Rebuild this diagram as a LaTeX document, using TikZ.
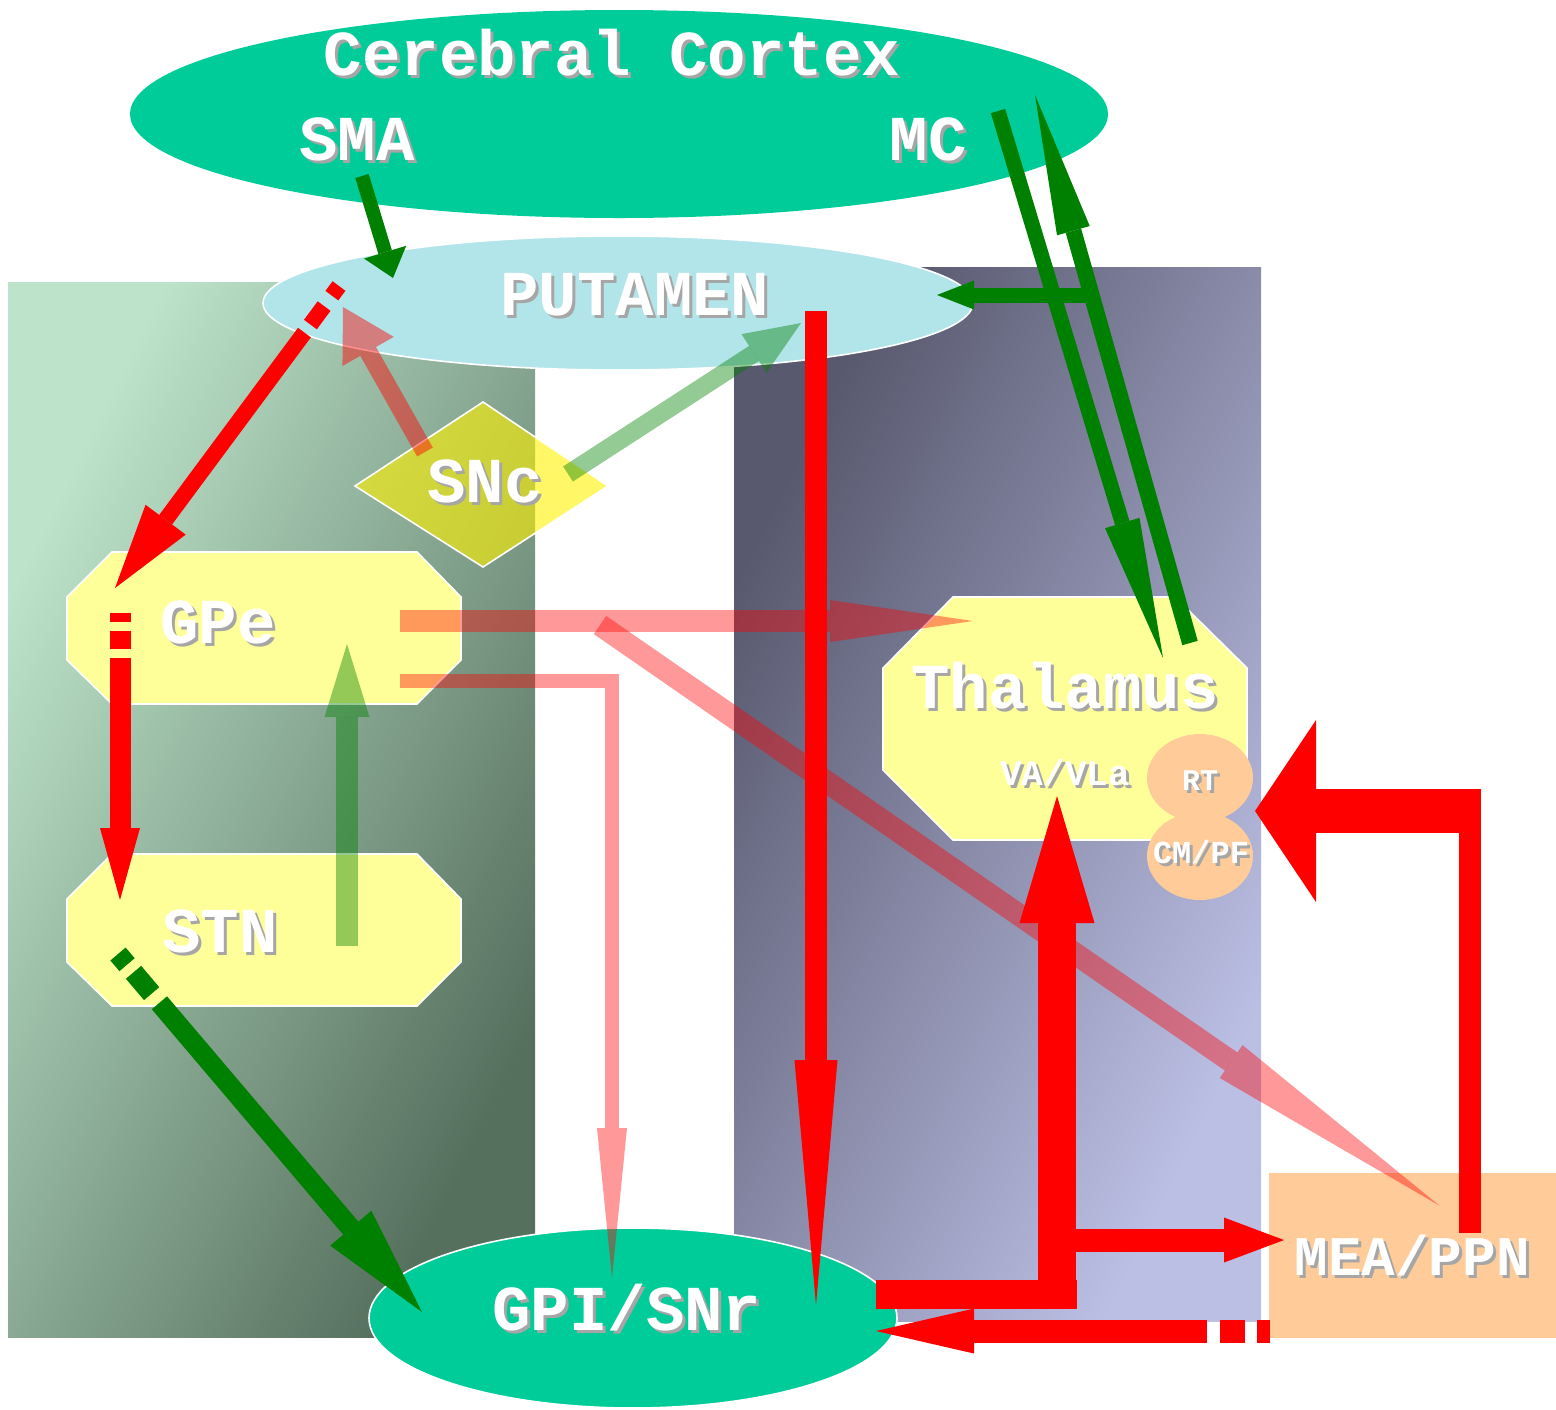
\documentclass[tikz,border=0pt]{standalone}
\usepackage{fontspec}
\setmonofont{Liberation Mono}
\usepackage{tikz}
\usetikzlibrary{arrows.meta,positioning,calc,shapes.geometric}
\definecolor{figteal}{HTML}{00CC99}
\definecolor{figcyan}{HTML}{B2E5E9}
\definecolor{figyellow}{HTML}{FFFF99}
\definecolor{figpeach}{HTML}{FFCC99}
\definecolor{figgreen}{HTML}{008000}
\definecolor{figred}{HTML}{FF0000}
\definecolor{mintlt}{HTML}{BDE3CA}
\definecolor{mintdk}{HTML}{56705E}
\definecolor{slatedk}{HTML}{58586E}
\definecolor{slatelt}{HTML}{BBBFE4}
\newcommand{\shtext}[1]{\makebox[0pt][l]{\hspace*{1.5pt}\raisebox{-1.5pt}{\textcolor{black!35}{#1}}}\textcolor{white}{#1}}
\tikzset{
  lbl/.style={inner sep=0pt, anchor=base, font=\ttfamily\bfseries\fontsize{32pt}{36pt}\selectfont},
  octbox/.style={fill=figyellow, draw=white, line width=0.8pt},
  region/.style={ellipse, inner sep=0pt},
  ah/.style 2 args={-{Triangle[length=#1,width=#2,line width=0pt]}},
}

\begin{document}
\begin{tikzpicture}[x=0.5pt,y=-0.5pt]
\useasboundingbox (0,0) rectangle (1556,1409);

% backgrounds (diagonal gradients stretched to each panel)
\shade[top color=mintlt, bottom color=mintdk, shading angle=45,
  transform canvas={xshift=4pt, yshift=-668.5pt, xscale=263.5, yscale=527.5}] (0pt,0pt) rectangle (1pt,1pt);
\shade[top color=slatedk, bottom color=slatelt, shading angle=45,
  transform canvas={xshift=367pt, yshift=-660.5pt, xscale=263.5, yscale=527}] (0pt,0pt) rectangle (1pt,1pt);
\fill[figpeach] (1269,1173) rectangle (1556,1338);

% regions
\node[region, fill=figteal, minimum width=489pt, minimum height=104pt] (cortex) at (619,114) {};
\node[region, fill=figcyan, draw=white, line width=0.8pt, minimum width=355pt, minimum height=67pt] (putamen) at (618,303) {};
\node[region, fill=figteal, draw=white, line width=0.8pt, minimum width=264pt, minimum height=90pt] (gpisnr) at (633,1318) {};

% nuclei
\filldraw[octbox] (112,552) -- (417,552) -- (461,597) -- (461,660) -- (417,704) -- (112,704) -- (67,660) -- (67,597) -- cycle;
\filldraw[octbox] (112,854) -- (417,854) -- (461,899) -- (461,962) -- (417,1006) -- (112,1006) -- (67,962) -- (67,899) -- cycle;
\filldraw[octbox] (953,597) -- (1175,597) -- (1247,668) -- (1247,770) -- (1175,840) -- (953,840) -- (883,770) -- (883,668) -- cycle;
\node[region, fill=figpeach, minimum width=53pt, minimum height=44pt] (rtcell) at (1200,778) {};
\node[region, fill=figpeach, minimum width=53pt, minimum height=44pt] (cmcell) at (1200,856) {};
\filldraw[fill=yellow, fill opacity=0.6, draw=white, line width=0.8pt] (355,486) -- (483,402) -- (608,486) -- (483,567) -- cycle;

% arrow ends
\coordinate (smaout) at (362,176);   \coordinate (putin) at (393,278);
\coordinate (mcout) at (998,111);    \coordinate (thalin) at (1163,658);
\coordinate (thalout) at (1190,643); \coordinate (mcin) at (1035,95);
\coordinate (mcbranch) at (1090,295); \coordinate (putright) at (937,295);
\coordinate (putgpe) at (339,286);   \coordinate (gpetop) at (115,588);
\coordinate (gpedown) at (120,613);  \coordinate (stntop) at (120,900);
\coordinate (stnout) at (118,954);   \coordinate (gpiin) at (422,1312);
\coordinate (gpethal) at (400,621);  \coordinate (thalleft) at (973,621);
\coordinate (gpegpi) at (400,681);   \coordinate (gpitop) at (612,1278);
\coordinate (stnup) at (347,946);    \coordinate (gpebot) at (347,644);
\coordinate (sncred) at (425,452);   \coordinate (putred) at (343,307);
\coordinate (sncgrn) at (568,474);   \coordinate (putgrn) at (801,323);
\coordinate (putdown) at (816,311);  \coordinate (gpiright) at (816,1305);
\coordinate (gpemea) at (600,625);   \coordinate (meatip) at (1440,1206);
\coordinate (gpiout) at (876,1294);  \coordinate (gpicorner) at (1077,1294);
\coordinate (vabase) at (1057,1287); \coordinate (vatip) at (1057,796);
\coordinate (vabranch) at (1057,1240); \coordinate (meain) at (1284,1240);
\coordinate (meaup) at (1470,1233);  \coordinate (meabend) at (1470,789);
\coordinate (meaturn) at (1481,811); \coordinate (rtin) at (1255,811);
\coordinate (meaout) at (1270,1331); \coordinate (gpiback) at (876,1331);

% faint pathways
\draw[figred, opacity=0.4, line width=11pt, ah={71.5pt}{21pt}] (gpethal) -- (thalleft);
\draw[figred, opacity=0.4, line width=7pt, ah={75pt}{15pt}] (gpegpi) -| (gpitop);
\draw[figred, opacity=0.4, line width=11pt, ah={127pt}{20pt}] (gpemea) -- (meatip);
\draw[figred, opacity=0.45, line width=9pt, ah={25.5pt}{29.5pt}] (sncred) -- (putred);
\draw[figgreen, opacity=0.42, line width=9pt, ah={28pt}{23pt}] (sncgrn) -- (putgrn);
\draw[figgreen, opacity=0.42, line width=11pt, ah={36.5pt}{22.5pt}] (stnup) -- (gpebot);

% solid pathways
\draw[figgreen, line width=7pt, ah={13.5pt}{22pt}] (smaout) -- (putin);
\draw[figgreen, line width=7.5pt, ah={70.5pt}{18pt}] (mcout) -- (thalin);
\draw[figgreen, line width=8pt, ah={70.5pt}{17pt}] (thalout) -- (mcin);
\draw[figgreen, line width=7.5pt, ah={18.5pt}{14.5pt}] (mcbranch) -- (putright);
\draw[figred, line width=8pt, dash pattern=on 6pt off 6.5pt on 11.5pt off 5pt on 500pt, ah={42.5pt}{25pt}] (putgpe) -- (gpetop);
\draw[figred, line width=10.5pt, dash pattern=on 4.5pt off 4.5pt on 9pt off 4.5pt on 500pt, ah={36pt}{20pt}] (gpedown) -- (stntop);
\draw[figgreen, line width=10pt, dash pattern=on 7pt off 5pt on 14pt off 6pt on 500pt, ah={55pt}{27pt}] (stnout) -- (gpiin);
\draw[figred, line width=11pt, ah={122.5pt}{21.5pt}] (putdown) -- (gpiright);
\draw[figred, line width=14.5pt] (gpiout) -- (gpicorner);
\draw[figred, line width=19pt, ah={63.5pt}{37.5pt}] (vabase) -- (vatip);
\draw[figred, line width=11.5pt, ah={30pt}{22.5pt}] (vabranch) -- (meain);
\draw[figred, line width=11pt] (meaup) -- (meabend);
\draw[figred, line width=22pt, ah={30.5pt}{91pt}] (meaturn) -- (rtin);
\draw[figred, line width=11.5pt, dash pattern=on 6.5pt off 6pt on 12.5pt off 6.5pt on 500pt, ah={49pt}{22.5pt}] (meaout) -- (gpiback);

% labels
\node[lbl] (ctxlbl) at (612,75) {\shtext{Cerebral Cortex}};
\node[lbl] (sma) at (357,160) {\shtext{SMA}};
\node[lbl] (mc) at (928,160) {\shtext{MC}};
\node[lbl] (put) at (635,315) {\shtext{PUTAMEN}};
\node[lbl] (snc) at (485,502) {\shtext{SNc}};
\node[lbl] (gpe) at (218,643) {\shtext{GPe}};
\node[lbl] (stn) at (220,952) {\shtext{STN}};
\node[lbl] (thal) at (1065,708) {\shtext{Thalamus}};
\node[lbl, font=\ttfamily\bfseries\fontsize{18pt}{20pt}\selectfont] (vavla) at (1065,785) {\shtext{VA/VLa}};
\node[lbl, font=\ttfamily\bfseries\fontsize{15pt}{17pt}\selectfont] (rt) at (1200,790) {\shtext{RT}};
\node[lbl, font=\ttfamily\bfseries\fontsize{16pt}{18pt}\selectfont] (cmpf) at (1201,863) {\shtext{CM/PF}};
\node[lbl] (gpi) at (627,1330) {\shtext{GPI/SNr}};
\node[lbl, font=\ttfamily\bfseries\fontsize{28pt}{32pt}\selectfont] (mea) at (1412,1275) {\shtext{MEA/PPN}};
\end{tikzpicture}
\end{document}
